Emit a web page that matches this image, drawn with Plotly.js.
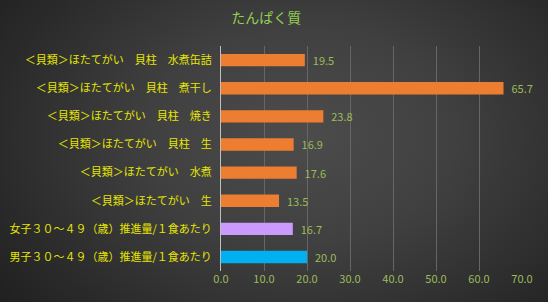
<!DOCTYPE html>
<html>
<head>
<meta charset="utf-8">
<script src="https://cdn.plot.ly/plotly-3.0.1.min.js"></script>
<style>
html,body{margin:0;padding:0;}
body{width:548px;height:302px;overflow:hidden;
background: radial-gradient(ellipse 70% 90% at 55% 45%, #4c4c4c 0%, #404040 40%, #2a2a2a 80%, #202020 100%);}
#chart{width:548px;height:302px;}
</style>
</head>
<body>
<div id="chart"></div>
<script>
const categories = [
  "＜貝類＞ほたてがい　貝柱　水煮缶詰",
  "＜貝類＞ほたてがい　貝柱　煮干し",
  "＜貝類＞ほたてがい　貝柱　焼き",
  "＜貝類＞ほたてがい　貝柱　生",
  "＜貝類＞ほたてがい　水煮",
  "＜貝類＞ほたてがい　生",
  "女子３０～４９（歳）推進量/１食あたり",
  "男子３０～４９（歳）推進量/１食あたり"
];
const values = [19.5, 65.7, 23.8, 16.9, 17.6, 13.5, 16.7, 20.0];
const barColors = ["#ED7D31","#ED7D31","#ED7D31","#ED7D31","#ED7D31","#ED7D31","#CC99FF","#00B0F0"];
const xTicks = [0,10,20,30,40,50,60,70];
const titleText = "たんぱく質";

const jp = '"Noto Sans CJK JP", "Noto Sans", sans-serif';

Plotly.newPlot('chart', [{
  type: 'bar',
  orientation: 'h',
  x: values,
  y: categories,
  marker: {color: barColors, line: {width: 0}},
  text: values.map(v => v.toFixed(1)),
  texttemplate: '  %{text}',
  textposition: 'outside',
  constraintext: 'none',
  cliponaxis: false,
  textfont: {family: jp, size: 11, color: '#9BBB59'},
  hoverinfo: 'none'
}], {
  width: 548, height: 302,
  paper_bgcolor: 'rgba(0,0,0,0)',
  plot_bgcolor: 'rgba(0,0,0,0)',
  margin: {l: 221, r: 26, t: 46, b: 31, pad: 0},
  bargap: 0.56,
  showlegend: false,
  title: {text: titleText, font: {family: jp, size: 14, color: '#92D050'}, x: 0.486, xanchor: 'center', y: 0.99, yanchor: 'top', pad: {t: 10}},
  xaxis: {
    range: [0, 70],
    tickvals: xTicks,
    ticktext: xTicks.map(v => v.toFixed(1)),
    showgrid: true, gridcolor: '#666666', gridwidth: 1,
    zeroline: false, showline: false,
    ticks: '', tickfont: {family: jp, size: 11, color: '#9BBB59'},
    fixedrange: true
  },
  yaxis: {
    type: 'category',
    autorange: 'reversed',
    showgrid: false, zeroline: false,
    showline: true, linecolor: '#BFBFBF', linewidth: 1,
    ticks: '', ticklabelstandoff: 6,
    tickfont: {family: jp, size: 11, color: '#E6E600'},
    fixedrange: true
  }
}, {displayModeBar: false, staticPlot: true});
</script>
</body>
</html>
